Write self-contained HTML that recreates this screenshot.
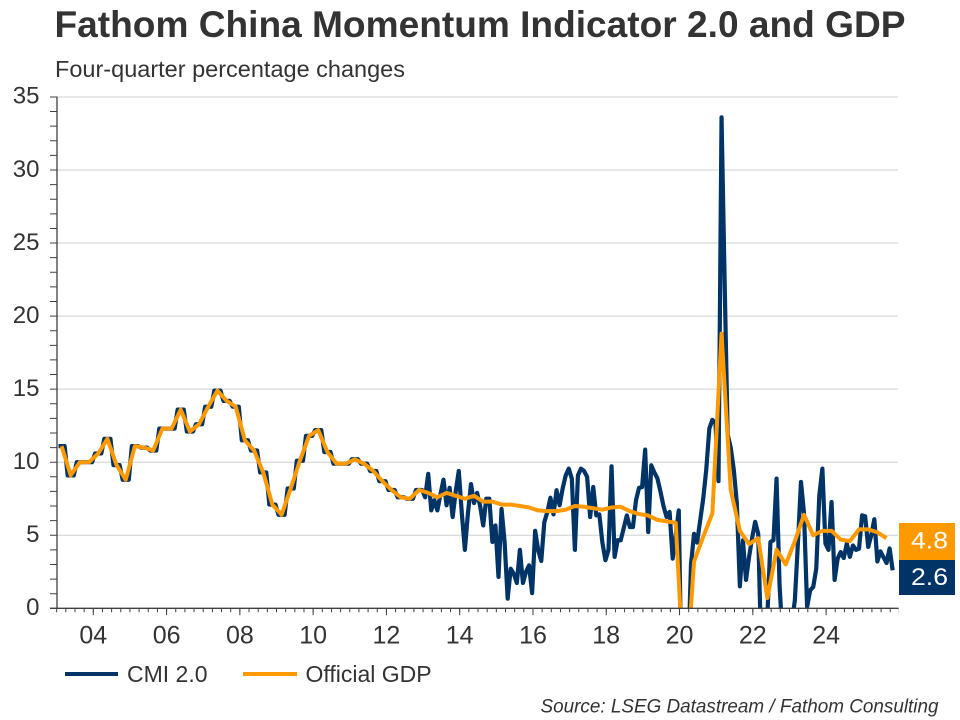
<!DOCTYPE html>
<html><head><meta charset="utf-8"><style>html,body{margin:0;padding:0;background:#fff;width:960px;height:720px;overflow:hidden}svg{display:block;position:absolute;left:0;top:0}</style></head>
<body>
<svg width="960" height="720" viewBox="0 0 960 720" xmlns="http://www.w3.org/2000/svg">
<rect width="960" height="720" fill="#fff"/>
<text x="54.5" y="37" font-family="Liberation Sans, Arial, sans-serif" font-weight="bold" font-size="37" fill="#333" textLength="851" lengthAdjust="spacingAndGlyphs">Fathom China Momentum Indicator 2.0 and GDP</text>
<text x="55" y="77" font-family="Liberation Sans, Arial, sans-serif" font-size="23" fill="#333" textLength="350" lengthAdjust="spacingAndGlyphs">Four-quarter percentage changes</text>
<g stroke="#ccd0d0" stroke-width="1">
<line x1="57" y1="535.25" x2="898" y2="535.25"/>
<line x1="57" y1="462.2" x2="898" y2="462.2"/>
<line x1="57" y1="389.15" x2="898" y2="389.15"/>
<line x1="57" y1="316.1" x2="898" y2="316.1"/>
<line x1="57" y1="243.05" x2="898" y2="243.05"/>
<line x1="57" y1="170" x2="898" y2="170"/>
<line x1="57" y1="96.95" x2="898" y2="96.95"/>
</g>
<g font-family="Liberation Sans, Arial, sans-serif" font-size="24" fill="#333" text-anchor="end">
<text x="39.5" y="614.8">0</text>
<text x="39.5" y="541.8">5</text>
<text x="39.5" y="468.8">10</text>
<text x="39.5" y="395.8">15</text>
<text x="39.5" y="322.8">20</text>
<text x="39.5" y="249.8">25</text>
<text x="39.5" y="176.8">30</text>
<text x="39.5" y="103.3">35</text>
</g>
<g font-family="Liberation Sans, Arial, sans-serif" font-size="25" fill="#333" text-anchor="middle">
<text x="93.3" y="643.5">04</text>
<text x="166.6" y="643.5">06</text>
<text x="239.9" y="643.5">08</text>
<text x="313.1" y="643.5">10</text>
<text x="386.4" y="643.5">12</text>
<text x="459.7" y="643.5">14</text>
<text x="533" y="643.5">16</text>
<text x="606.2" y="643.5">18</text>
<text x="679.5" y="643.5">20</text>
<text x="752.8" y="643.5">22</text>
<text x="826.1" y="643.5">24</text>
</g>
<defs>
<clipPath id="c" clipPathUnits="userSpaceOnUse"><rect x="-5" y="0" width="290" height="40"/></clipPath>
</defs>
<g transform="translate(58.5,608.3) scale(3.0555,-14.61)" fill="none" stroke-linejoin="round" stroke-linecap="butt">
<polyline clip-path="url(#c)" vector-effect="non-scaling-stroke" stroke="#003366" stroke-width="4.2" points="0,11.1 1,11.1 2,11.1 3,9.1 4,9.1 5,9.1 6,10 7,10 8,10 9,10 10,10 11,10 12,10.6 13,10.6 14,10.6 15,11.6 16,11.6 17,11.6 18,9.8 19,9.8 20,9.8 21,8.8 22,8.8 23,8.8 24,11.1 25,11.1 26,11.1 27,11 28,11 29,11 30,10.8 31,10.8 32,10.8 33,12.3 34,12.3 35,12.3 36,12.3 37,12.3 38,12.3 39,13.6 40,13.6 41,13.6 42,12.1 43,12.1 44,12.1 45,12.6 46,12.6 47,12.6 48,13.8 49,13.8 50,13.8 51,14.9 52,14.9 53,14.9 54,14.2 55,14.2 56,14.2 57,13.8 58,13.8 59,13.8 60,11.5 61,11.5 62,11.5 63,10.8 64,10.8 65,10.8 66,9.3 67,9.3 68,9.3 69,7.1 70,7.1 71,7.1 72,6.4 73,6.4 74,6.4 75,8.2 76,8.2 77,8.2 78,10.1 79,10.1 80,10.1 81,11.8 82,11.8 83,11.8 84,12.2 85,12.2 86,12.2 87,10.7 88,10.7 89,10.7 90,9.9 91,9.9 92,9.9 93,9.9 94,9.9 95,9.9 96,10.2 97,10.2 98,10.2 99,9.9 100,9.9 101,9.9 102,9.4 103,9.4 104,9.4 105,8.7 106,8.7 107,8.7 108,8.1 109,8.1 110,8.1 111,7.6 112,7.6 113,7.6 114,7.5 115,7.5 116,7.5 117,8.1 118,8.1 119,8.1 120,7.6 121,9.2 122,6.7 123,7.4 124,6.7 125,7.8 126,8.8 127,7.05 128,8.25 129,6.25 130,8 131,9.4 132,6.5 133,4 134,6.5 135,8.5 136,7.2 137,7.9 138,7 139,5.67 140,7.5 141,7.5 142,4.54 143,5.67 144,2.15 145,6.8 146,4.54 147,0.66 148,2.71 149,2.37 150,1.73 151,4 152,1.73 153,2.5 154,2.94 155,1.04 156,5.3 157,3.97 158,3.24 159,5.9 160,6.6 161,7.57 162,6.43 163,8.08 164,7.05 165,8.2 166,9.1 167,9.56 168,8.88 169,4 170,9.1 171,9.56 172,9.4 173,9 174,6.25 175,8.3 176,6.36 177,6.43 178,4.5 179,3.29 180,4 181,9.72 182,3.52 183,4.66 184,4.66 185,5.5 186,6.36 187,5.56 188,5.56 189,7.39 190,8.25 191,8.3 192,10.86 193,5.22 194,9.79 195,9.3 196,8.9 197,8 198,7 199,6.25 200,6.6 201,3.4 202,5 203,6.7 204,-6 205,-6 206,-4 207,3 208,5.1 209,4.5 210,6 211,7.5 212,9.5 213,12.3 214,12.9 215,12.7 216,8.7 217,33.6 218,22.5 219,11.9 220,11 221,9.5 222,7.2 223,1.5 224,4.66 225,1.94 226,3.5 227,4.8 228,5.92 229,5.1 230,-3 231,-3 232,-0.5 233,4.54 234,4.66 235,8.88 236,1.5 237,-2 238,-3 239,-3 240,-1 241,0.55 242,4.5 243,8.65 244,6.48 245,0.1 246,1.23 247,1.46 248,2.71 249,7.73 250,9.56 251,4.43 252,4 253,7.28 254,1.94 255,3.4 256,3.85 257,3.44 258,4.43 259,3.52 260,4.3 261,4 262,4.08 263,6.36 264,6.3 265,4.2 266,5 267,6.1 268,3.2 269,3.9 270,3.5 271,3.1 272,4.1 273,2.6"/>
<polyline clip-path="url(#c)" vector-effect="non-scaling-stroke" stroke="#ff9900" stroke-width="4" points="1,11.1 4,9.1 7,10 10,10 13,10.6 16,11.6 19,9.8 22,8.8 25,11.1 28,11 31,10.8 34,12.3 37,12.3 40,13.6 43,12.1 46,12.6 49,13.8 52,14.9 55,14.2 58,13.8 61,11.5 64,10.8 67,9.3 70,7.1 73,6.4 76,8.2 79,10.1 82,11.8 85,12.2 88,10.7 91,9.9 94,9.9 97,10.2 100,9.9 103,9.4 106,8.7 109,8.1 112,7.6 115,7.5 118,8.1 121,7.9 124,7.6 127,7.9 130,7.7 133,7.5 136,7.7 139,7.3 142,7.3 145,7.1 148,7.1 151,7 154,6.9 157,6.7 160,6.65 163,6.65 166,6.75 169,7 172,6.95 175,6.85 178,6.75 181,6.9 184,6.95 187,6.65 190,6.45 193,6.35 196,6.05 199,5.95 202,5.85 205,-6 208,3.2 211,4.9 214,6.5 217,18.8 220,8.1 223,5.3 226,4.4 229,4.8 232,0.7 235,4 238,3 241,4.6 244,6.4 247,5 250,5.3 253,5.3 256,4.7 259,4.6 262,5.4 265,5.4 268,5.2 271,4.8"/>
</g>
<g stroke="#404040" fill="none">
<line x1="57" y1="96.5" x2="57" y2="609" stroke-width="1.3"/>
<line x1="50" y1="608.3" x2="898.5" y2="608.3" stroke-width="1.3"/>
<line x1="53.5" y1="608.8" x2="53.5" y2="96" stroke-width="7" stroke-dasharray="1 13.61"/>
<line x1="56.16" y1="610.3" x2="899" y2="610.3" stroke-width="4" stroke-dasharray="1 8.16"/>
<line x1="92.8" y1="611.8" x2="899" y2="611.8" stroke-width="7" stroke-dasharray="1 72.28"/>
</g>
<line x1="65" y1="674" x2="118" y2="674" stroke="#003366" stroke-width="4"/>
<text x="127" y="682" font-family="Liberation Sans, Arial, sans-serif" font-size="23" fill="#333">CMI 2.0</text>
<line x1="243" y1="674" x2="297" y2="674" stroke="#ff9900" stroke-width="4"/>
<text x="305.5" y="682" font-family="Liberation Sans, Arial, sans-serif" font-size="23" fill="#333">Official GDP</text>
<text x="540.5" y="712.5" font-family="Liberation Sans, Arial, sans-serif" font-style="italic" font-size="19" fill="#333" textLength="398" lengthAdjust="spacingAndGlyphs">Source: LSEG Datastream / Fathom Consulting</text>
<rect x="899" y="523" width="56" height="37" fill="#ff9900"/>
<rect x="899" y="560" width="56" height="35" fill="#003366"/>
<text x="911" y="548.5" font-family="Liberation Sans, Arial, sans-serif" font-size="24" fill="#fff" textLength="37" lengthAdjust="spacingAndGlyphs">4.8</text>
<text x="911" y="585" font-family="Liberation Sans, Arial, sans-serif" font-size="24" fill="#fff" textLength="37" lengthAdjust="spacingAndGlyphs">2.6</text>
</svg>
</body></html>
